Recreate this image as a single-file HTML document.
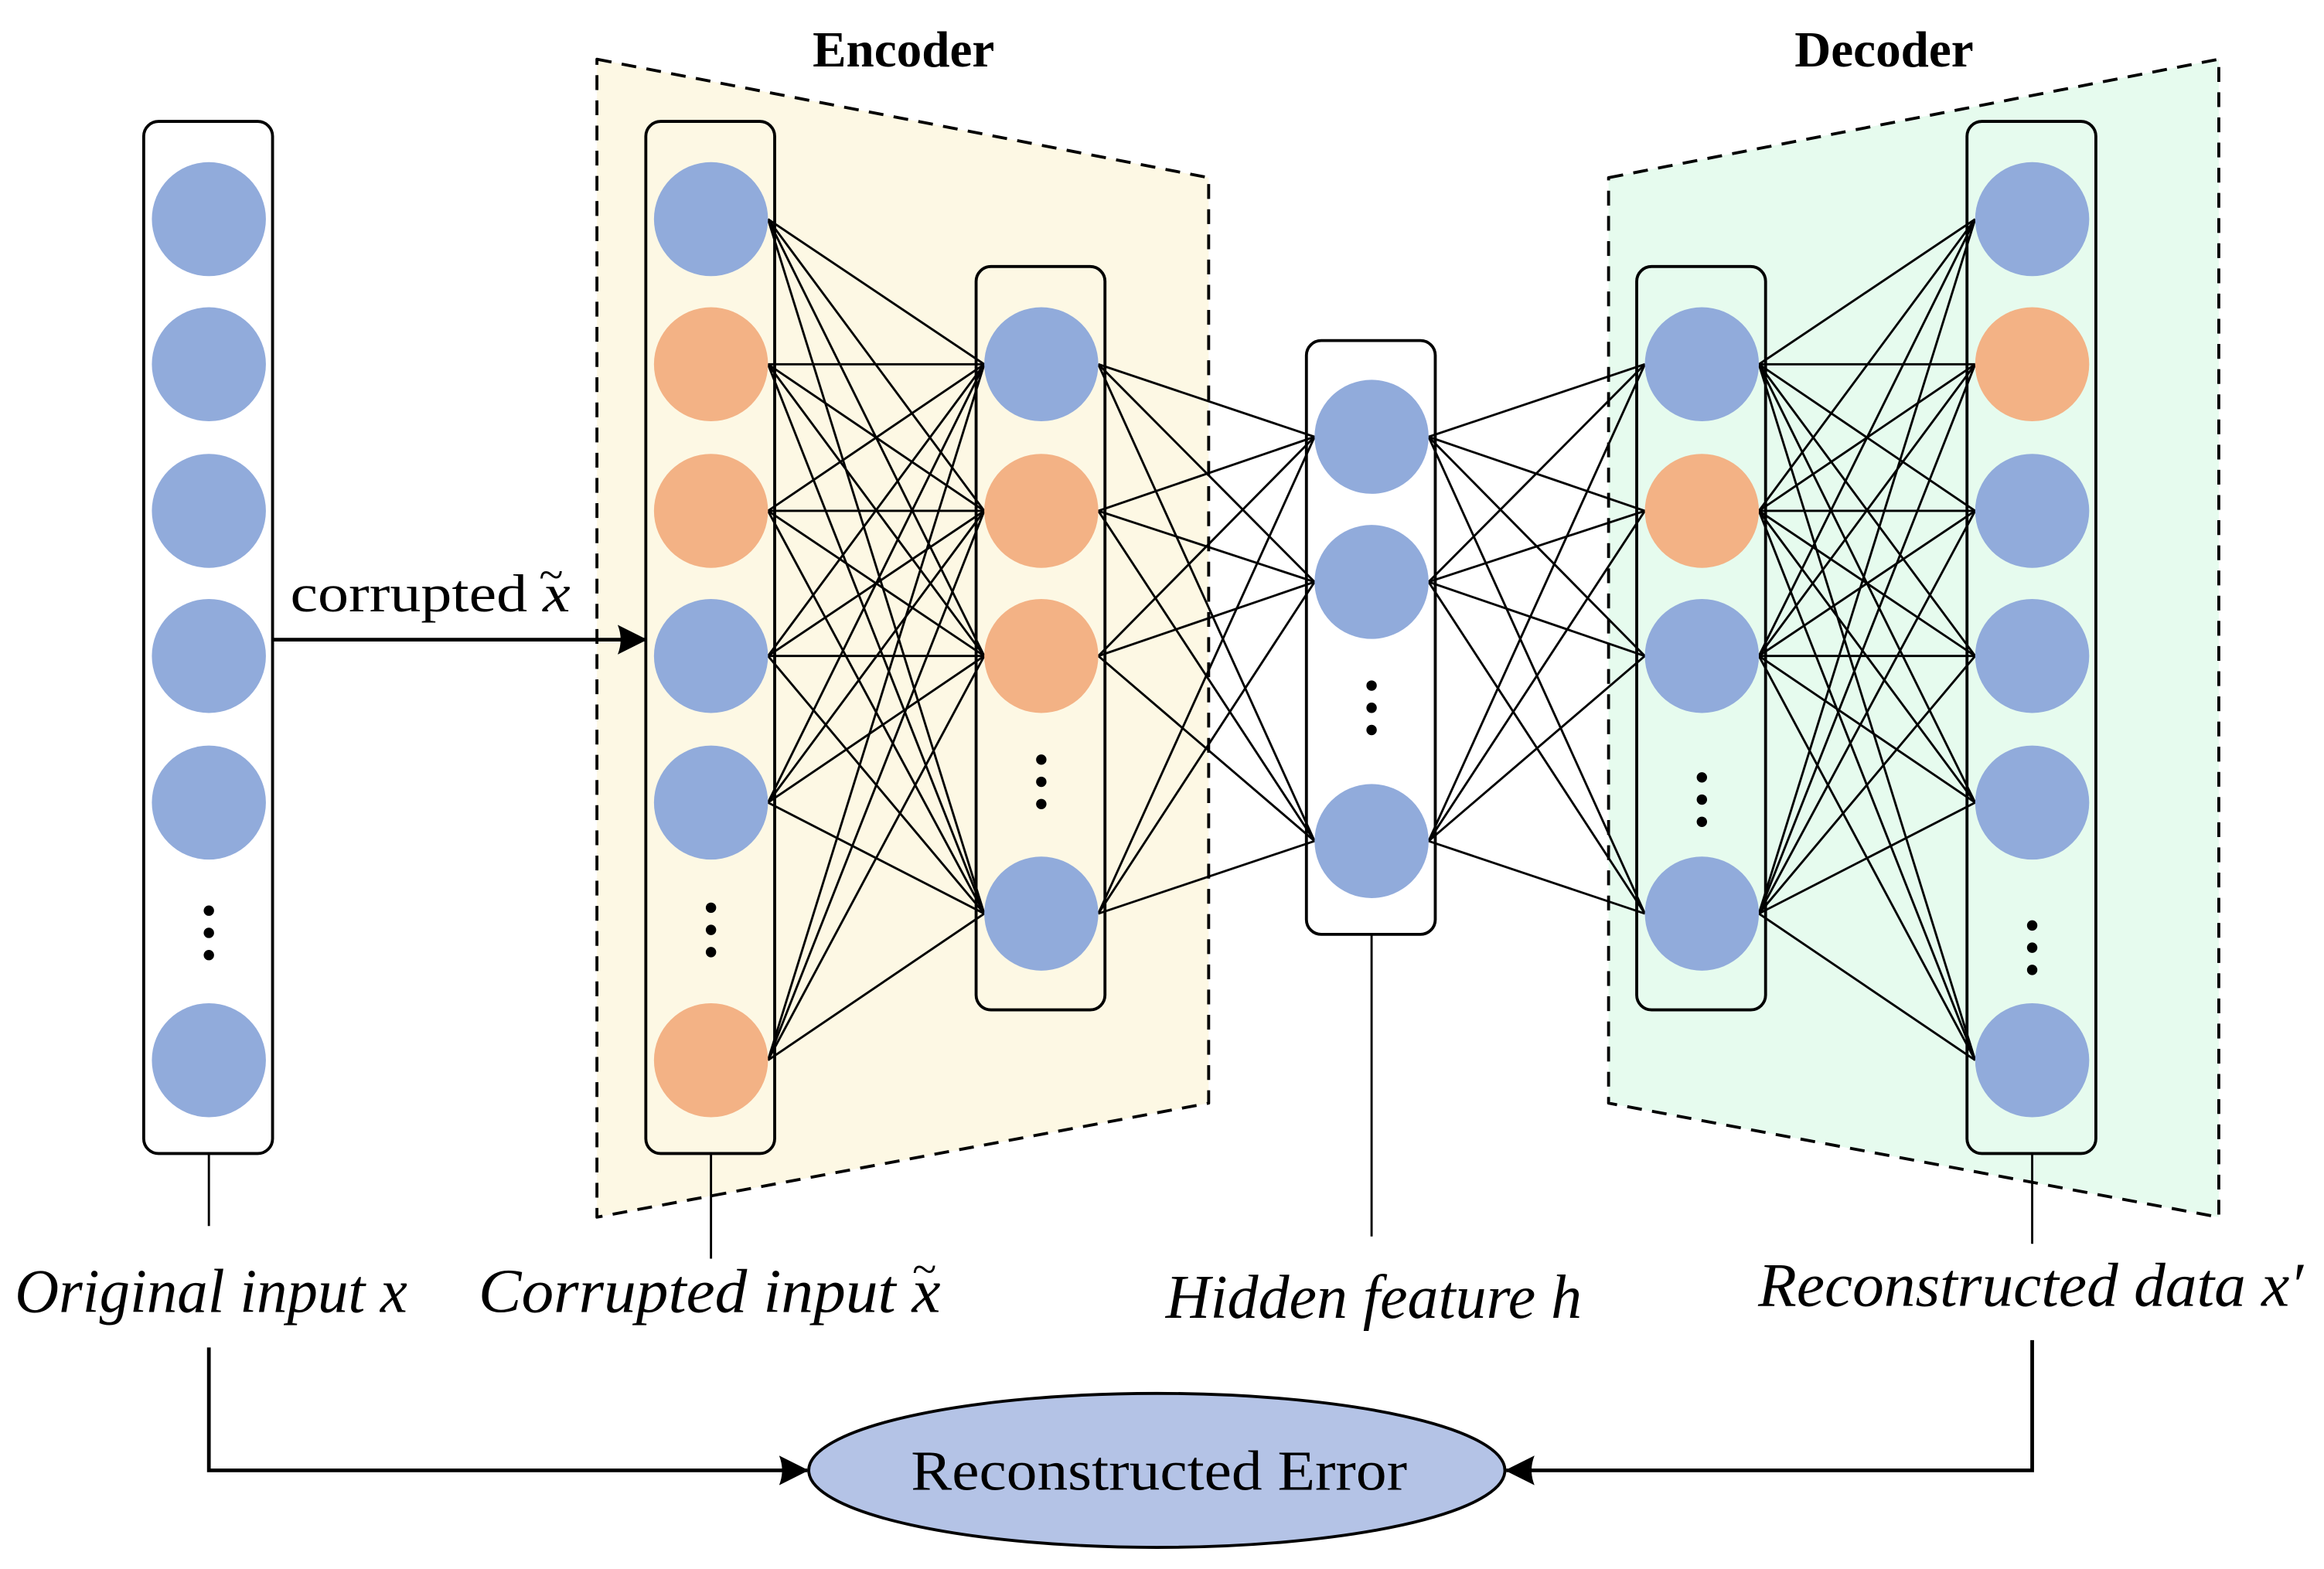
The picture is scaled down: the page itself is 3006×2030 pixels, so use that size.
<!DOCTYPE html>
<html><head><meta charset="utf-8"><style>html,body{margin:0;padding:0;background:#fff}svg{display:block}</style></head>
<body>
<svg id="s" xmlns="http://www.w3.org/2000/svg" width="3006" height="2030" viewBox="0 0 1569 1059.6">
<defs>
<marker id="ar" viewBox="0 0 20 20" refX="19" refY="10" markerWidth="20" markerHeight="20" markerUnits="userSpaceOnUse" orient="auto">
<path d="M0,0 Q4,10 0,20 L20,10 Z" fill="#000"/></marker>
</defs>
<polygon points="403,40 816,120 816,745 403,822" fill="#fdf8e4" stroke="#000" stroke-width="2" stroke-dasharray="10,7" stroke-linejoin="round"/>
<polygon points="1086,120 1498,40 1498,822 1086,745" fill="#e6fbee" stroke="#000" stroke-width="2" stroke-dasharray="10,7" stroke-linejoin="round"/>
<text x="610" y="45" font-family="'Liberation Serif', serif" font-weight="bold" font-size="34" text-anchor="middle">Encoder</text>
<text x="1272" y="45" font-family="'Liberation Serif', serif" font-weight="bold" font-size="34" text-anchor="middle">Decoder</text>
<g id="boxes" fill="none" stroke="#000" stroke-width="2">
<rect x="97" y="82" width="87" height="697" rx="10"/>
<rect x="436" y="82" width="87" height="697" rx="10"/>
<rect x="659" y="180" width="87" height="502" rx="10"/>
<rect x="882" y="230" width="87" height="401" rx="10"/>
<rect x="1105" y="180" width="87" height="502" rx="10"/>
<rect x="1328" y="82" width="87" height="697" rx="10"/>
</g>
<g id="lines" stroke="#000" stroke-width="1.5"></g>
<g id="nodes"></g>
<g stroke="#000" stroke-width="1.5">
<line x1="141" y1="779" x2="141" y2="828"/>
<line x1="480" y1="779" x2="480" y2="850"/>
<line x1="926" y1="631" x2="926" y2="835"/>
<line x1="1372" y1="779" x2="1372" y2="840"/>
</g>
<line x1="184" y1="432" x2="436" y2="432" stroke="#000" stroke-width="2.5" marker-end="url(#ar)"/>
<text x="196" y="413" font-family="'Liberation Serif', serif" font-size="36" textLength="189" lengthAdjust="spacingAndGlyphs">corrupted <tspan font-style="italic">x</tspan></text>
<text x="364" y="398" font-family="'Liberation Serif', serif" font-size="30">~</text>
<g font-family="'Liberation Serif', serif" font-style="italic" font-size="42">
<text x="10" y="886" textLength="265" lengthAdjust="spacingAndGlyphs">Original input x</text>
<text x="323" y="886" textLength="312" lengthAdjust="spacingAndGlyphs">Corrupted input  x</text>
<text x="787" y="890" textLength="281" lengthAdjust="spacingAndGlyphs">Hidden feature h</text>
<text x="1187" y="882" textLength="368" lengthAdjust="spacingAndGlyphs">Reconstructed  data x′</text>
</g>
<text x="616" y="867" font-family="'Liberation Serif', serif" font-size="30">~</text>
<polyline points="141,910 141,993 545,993" fill="none" stroke="#000" stroke-width="2.5" marker-end="url(#ar)"/>
<polyline points="1372,905 1372,993 1017,993" fill="none" stroke="#000" stroke-width="2.5" marker-end="url(#ar)"/>
<ellipse cx="781" cy="993" rx="235" ry="52" fill="#b4c3e6" stroke="#000" stroke-width="2"/>
<text x="615" y="1006" font-family="'Liberation Serif', serif" font-size="38" textLength="335" lengthAdjust="spacingAndGlyphs">Reconstructed Error</text>
</svg>
<script>
var B='#91abdb',O='#f3b285',R=38.5;
var layers=[
 {x:141,n:[[148,B],[246,B],[345,B],[443,B],[542,B],[716,B]],d:630},
 {x:480,n:[[148,B],[246,O],[345,O],[443,B],[542,B],[716,O]],d:628},
 {x:703,n:[[246,B],[345,O],[443,O],[617,B]],d:528},
 {x:926,n:[[295,B],[393,B],[568,B]],d:478},
 {x:1149,n:[[246,B],[345,O],[443,B],[617,B]],d:540},
 {x:1372,n:[[148,B],[246,O],[345,B],[443,B],[542,B],[716,B]],d:640}
];
var ns='http://www.w3.org/2000/svg',L=document.getElementById('lines'),N=document.getElementById('nodes');
function el(t,a,p){var e=document.createElementNS(ns,t);for(var k in a)e.setAttribute(k,a[k]);p.appendChild(e);}
for(var i=1;i<5;i++){var a=layers[i],b=layers[i+1];
 a.n.forEach(function(p){b.n.forEach(function(q){el('line',{x1:a.x+R,y1:p[0],x2:b.x-R,y2:q[0]},L);});});}
layers.forEach(function(l){l.n.forEach(function(p){el('circle',{cx:l.x,cy:p[0],r:R,fill:p[1]},N);});
 for(var k=-1;k<=1;k++)el('circle',{cx:l.x,cy:l.d+k*15,r:3.5,fill:'#000'},N);});
</script>
</body></html>
